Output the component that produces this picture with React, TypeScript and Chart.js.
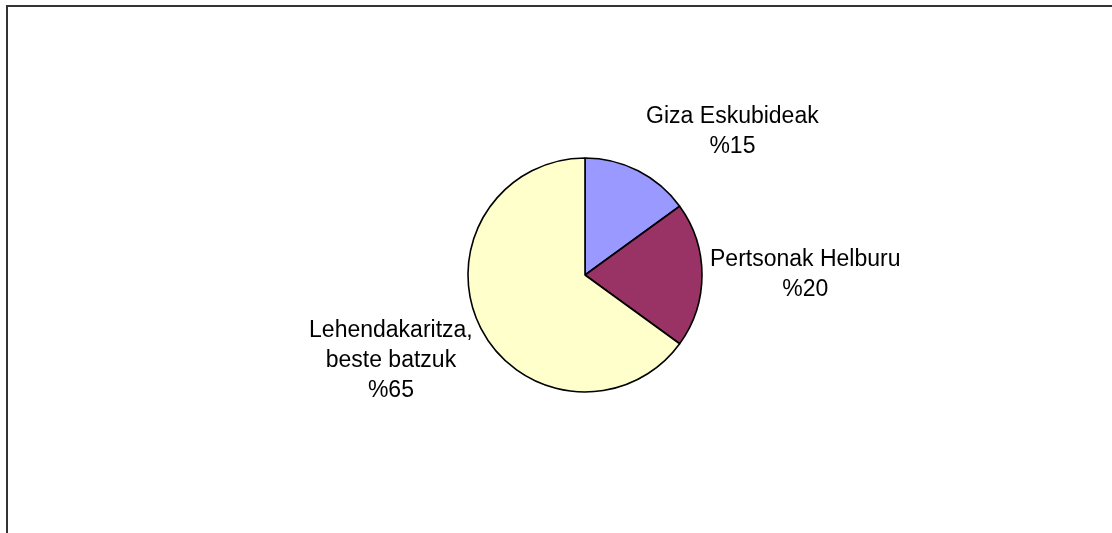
import React, { useEffect, useRef } from "react";
import { Chart, registerables } from "chart.js";

Chart.register(...registerables);

const categories: string[][] = [["Giza Eskubideak"], ["Pertsonak Helburu"], ["Lehendakaritza,", "beste batzuk"]];
const values: number[] = [15, 20, 65];
const colors: string[] = ["#9999FF", "#993366", "#FFFFCC"];

const FONT_SIZE = 23;
const LINE_H = 30;
const FONT = `${FONT_SIZE}px "Liberation Sans", Arial, sans-serif`;

const labelPlugin = {
  id: "pieLabels",
  afterDatasetsDraw(chart: any) {
    const ctx = chart.ctx;
    const meta = chart.getDatasetMeta(0);
    ctx.save();
    ctx.font = FONT;
    ctx.fillStyle = "#000";
    ctx.textAlign = "center";
    ctx.textBaseline = "middle";
    meta.data.forEach((arc: any, i: number) => {
      const { x, y, startAngle, endAngle, outerRadius } = arc.getProps(
        ["x", "y", "startAngle", "endAngle", "outerRadius"],
        true
      );
      const mid = (startAngle + endAngle) / 2;
      const ux = Math.cos(mid);
      const uy = Math.sin(mid);
      const px = x + outerRadius * ux;
      const py = y + outerRadius * uy;
      const lines = [...categories[i], "%" + values[i]];
      const w = Math.max(...lines.map((l) => ctx.measureText(l).width));
      const h = lines.length * LINE_H;
      const cx = px + Math.sign(ux) * (w / 2 + 8);
      const cy = py + uy * (h / 2) + 12 * Math.sign(uy) * Math.min(1, Math.abs(uy) * 3);
      lines.forEach((l, k) => {
        ctx.fillText(l, cx, cy - h / 2 + LINE_H * (k + 0.5));
      });
    });
    ctx.restore();
  },
};

export default function App() {
  const ref = useRef<HTMLCanvasElement>(null);
  useEffect(() => {
    document.body.style.overflow = "hidden";
    const chart = new Chart(ref.current!, {
      type: "pie",
      data: {
        labels: categories,
        datasets: [
          {
            data: values,
            backgroundColor: colors,
            borderColor: "#000",
            borderWidth: 1.6,
          },
        ],
      },
      options: {
        responsive: false,
        animation: false,
        radius: 117,
        layout: { padding: { left: 58, right: 0, top: 17, bottom: 0 } },
        plugins: {
          legend: { display: false },
          tooltip: { enabled: false },
        },
      } as any,
      plugins: [labelPlugin],
    });
    return () => chart.destroy();
  }, []);
  return (
    <div style={{ position: "absolute", left: 0, top: 0, width: 1112, height: 533, background: "#fff" }}>
      <div
        style={{
          position: "absolute",
          left: 6,
          top: 5,
          width: 1106,
          height: 528,
          boxSizing: "border-box",
          borderTop: "2px solid #333",
          borderLeft: "2px solid #333",
        }}
      />
      <canvas
        ref={ref}
        width={1112}
        height={533}
        style={{ position: "absolute", left: 0, top: 0, display: "block" }}
      />
    </div>
  );
}
